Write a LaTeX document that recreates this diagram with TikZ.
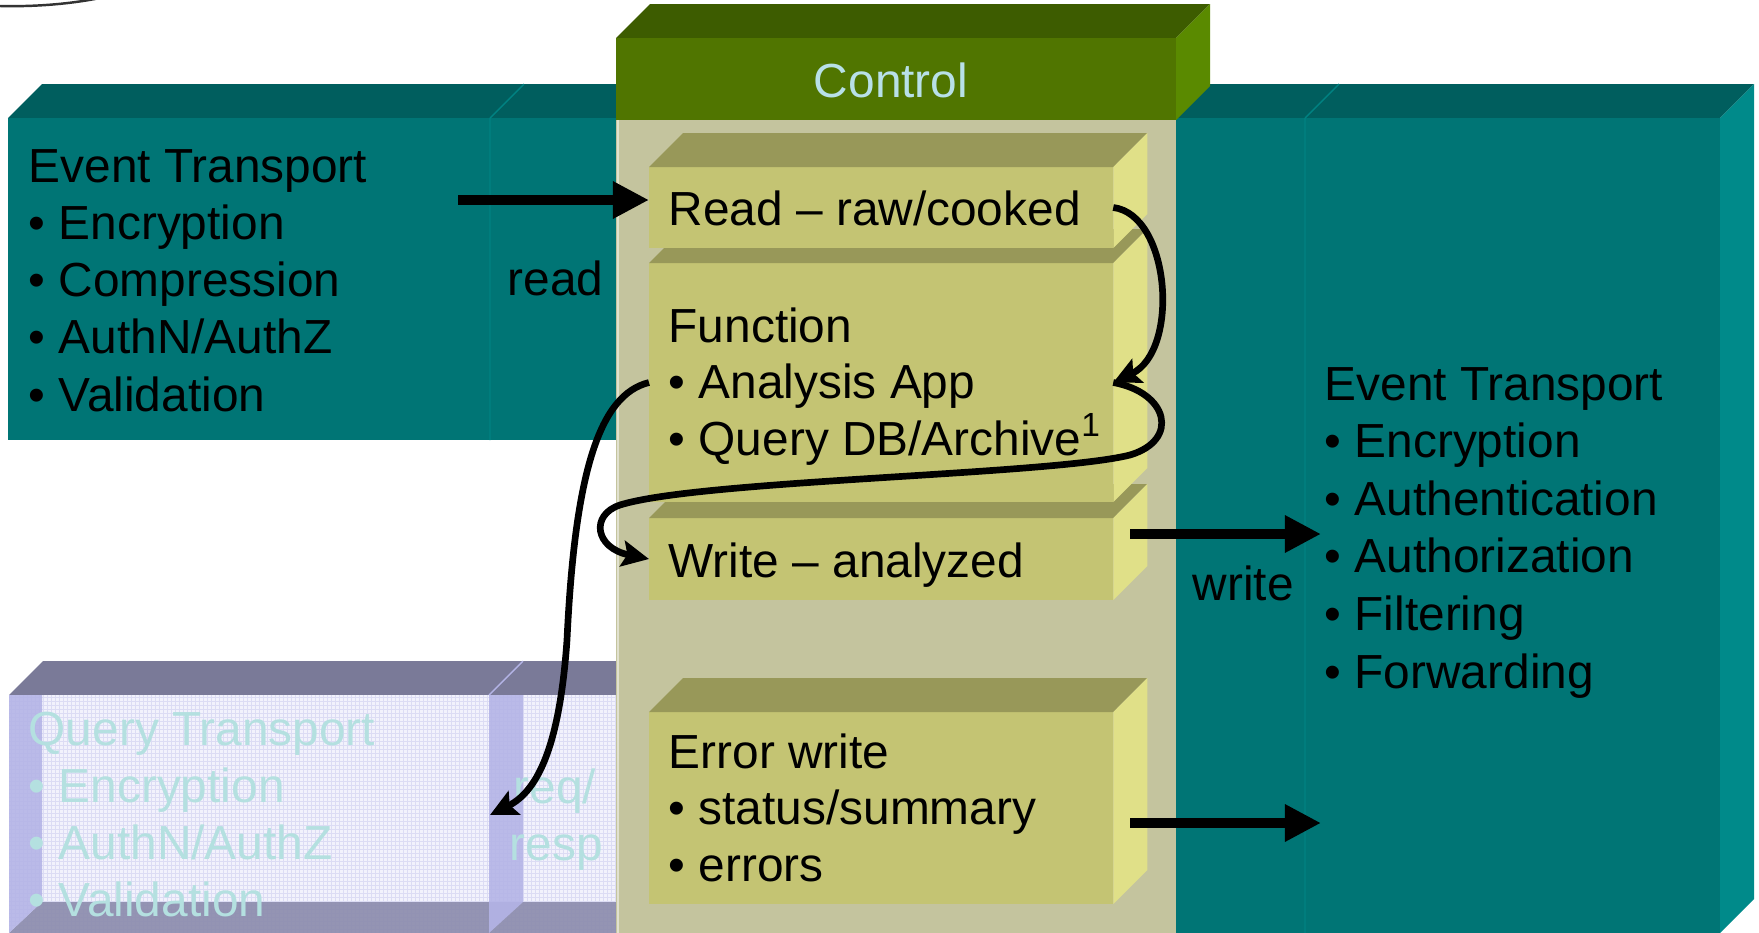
\documentclass[tikz,border=0pt]{standalone}
\usepackage{fontspec}
\setmainfont{Liberation Sans}
\usetikzlibrary{arrows.meta}

\definecolor{etfront}{RGB}{0,117,117}
\definecolor{ettop}{RGB}{0,94,94}
\definecolor{etside}{RGB}{0,138,138}
\definecolor{etline}{RGB}{0,130,130}
\definecolor{ctlfront}{RGB}{80,117,0}
\definecolor{ctltop}{RGB}{61,92,0}
\definecolor{ctlside}{RGB}{90,138,0}
\definecolor{ctlbody}{RGB}{196,196,158}
\definecolor{ctltext}{RGB}{184,224,232}
\definecolor{boxfront}{RGB}{196,196,115}
\definecolor{boxtop}{RGB}{152,152,89}
\definecolor{boxside}{RGB}{224,224,136}
\definecolor{qtop}{RGB}{122,122,152}
\definecolor{qfront}{RGB}{242,242,252}
\definecolor{qside}{RGB}{180,180,230}
\definecolor{qbottom}{RGB}{138,138,172}
\definecolor{qtext}{RGB}{180,224,224}

\begin{document}
\begin{tikzpicture}[x=0.01cm, y=-0.01cm,
    txt/.style={inner sep=0pt, anchor=base west, font=\fontsize{13.6}{16}\selectfont},
    face/.style={inner sep=0pt, outer sep=0pt, anchor=north west},
    qgrid/.style={qside!35!qfront, line width=0.2pt},
    bigarrow/.style={line width=3.1pt, -{Triangle[length=0.36cm, width=0.35cm]}},
    curvearrow/.style={line width=1.9pt, -{Stealth[length=0.27cm, width=0.26cm, inset=0.05cm]}}]

\useasboundingbox (0,0) rectangle (1759,933);

% cut-off curve in the corner
\draw[line width=0.7pt, black!80] (0,6) .. controls (40,7) and (75,3) .. (100,-2);

% event transport, in
\fill[ettop] (8,118) -- (42,84) -- (650,84) -- (616,118) -- cycle;
\node[face, fill=etfront, minimum width=6.08cm, minimum height=3.22cm] (evin) at (8,118) {};
\draw[etline] (490,118) -- (490,440) (490,118) -- (524,84);

% event transport, out
\fill[ettop] (1176,118) -- (1210,84) -- (1754,84) -- (1720,118) -- cycle;
\fill[etside] (1720,118) -- (1754,84) -- (1754,899) -- (1720,933) -- cycle;
\node[face, fill=etfront, minimum width=5.44cm, minimum height=8.15cm] (evout) at (1176,118) {};
\draw[etline] (1305,118) -- (1305,933) (1305,118) -- (1339,84);

% query transport
\fill[qtop] (9,695) -- (43,661) -- (650,661) -- (616,695) -- cycle;
\node[face, fill=qfront, minimum width=6.07cm, minimum height=2.38cm] (query) at (9,695) {};
\foreach \gx in {11,15,...,615} \draw[qgrid] (\gx,695) -- (\gx,933);
\foreach \gy in {697,701,...,933} \draw[qgrid] (9,\gy) -- (616,\gy);
\fill[qbottom, opacity=.9] (9,933) -- (42,902) -- (616,902) -- (616,933) -- cycle;
\fill[qside, opacity=.9] (9,695) -- (42,695) -- (42,902) -- (9,933) -- cycle;
\fill[qside, opacity=.9] (489,695) -- (523,695) -- (523,902) -- (489,933) -- cycle;
\draw[qside, line width=0.4pt] (489,695) -- (523,661);

% control
\fill[ctltop] (616,38) -- (650,4) -- (1210,4) -- (1176,38) -- cycle;
\fill[ctlside] (1176,38) -- (1210,4) -- (1210,86) -- (1176,120) -- cycle;
\node[face, fill=ctlfront, minimum width=5.6cm, minimum height=0.82cm] (ctl) at (616,38) {};
\node[face, fill=ctlbody, minimum width=5.6cm, minimum height=8.13cm] (ctlbody) at (616,120) {};
\draw[ctlbody!50!white, line width=0.6pt] (618,120) -- (618,933);

% stages
\foreach \n/\y/\h in {err/712/192, wr/518/82, fn/263/239, rd/167/81} {
  \node[face, fill=boxfront, minimum width=4.64cm, minimum height=\h*0.01cm] (\n) at (649,\y) {};
  \fill[boxtop] (\n.north west) -- ++(34,-34) -- ++(464,0) -- (\n.north east) -- cycle;
  \fill[boxside] (\n.north east) -- ++(34,-34) -- ++(0,\h) -- (\n.south east) -- cycle;
}

% texts
\node[txt, text=ctltext, anchor=base] (ctltxt) at (891,97) {Control};
\foreach \t [count=\i from 0] in {Event Transport, \textbullet{} Encryption, \textbullet{} Compression,
    \textbullet{} AuthN/AuthZ, \textbullet{} Validation}
  \node[txt] (intxt\i) at (28,182+57.3*\i) {\t};
\node[txt] (readlbl) at (507,295) {read};
\foreach \t [count=\i from 0] in {Event Transport, \textbullet{} Encryption, \textbullet{} Authentication,
    \textbullet{} Authorization, \textbullet{} Filtering, \textbullet{} Forwarding}
  \node[txt] (outtxt\i) at (1324,400+57.6*\i) {\t};
\node[txt] (writelbl) at (1192,600) {write};
\foreach \t [count=\i from 0] in {Query Transport, \textbullet{} Encryption, \textbullet{} AuthN/AuthZ,
    \textbullet{} Validation}
  \node[txt, text=qtext] (qtxt\i) at (28,745+57.3*\i) {\t};
\node[txt, text=qtext] (reqlbl) at (513,803) {req/};
\node[txt, text=qtext] (resplbl) at (509,860) {resp};

\node[txt] (rdtxt) at (668,225) {Read -- raw/cooked};
\foreach \t [count=\i from 0] in {Function, \textbullet{} Analysis App, \textbullet{} Query DB/Archive\textsuperscript{1}}
  \node[txt] (fntxt\i) at (668,342+56.5*\i) {\t};
\node[txt] (wrtxt) at (668,577) {Write -- analyzed};
\foreach \t [count=\i from 0] in {Error write, \textbullet{} status/summary, \textbullet{} errors}
  \node[txt] (errtxt\i) at (668,768+56.5*\i) {\t};

% flows
\coordinate (rdsrc) at (458,200);
\coordinate (wrsrc) at (1130,534);
\coordinate (wrdst) at (1321,534);
\coordinate (errsrc) at (1130,823);
\coordinate (errdst) at (1321,823);
\coordinate (reqin) at (490,815);
\draw[bigarrow] (rdsrc) -- (rdsrc -| rd.west);
\draw[bigarrow] (wrsrc) -- (wrdst);
\draw[bigarrow] (errsrc) -- (errdst);

\draw[curvearrow] (rd.east) .. controls +(57,7) and +(67,-32) .. (fn.east);
\draw[curvearrow] (fn.east) .. controls +(55,10) and +(50,-15) .. (1130,455)
    .. controls +(-80,20) and +(80,-25) .. (620,505)
    .. controls +(-30,10) and +(-54,-11) .. (wr.west);
\draw[curvearrow] (fn.west) .. controls +(-49,12) and +(8,-170) .. (567,640)
    .. controls +(-7,100) and +(50,-25) .. (reqin);
\end{tikzpicture}
\end{document}
